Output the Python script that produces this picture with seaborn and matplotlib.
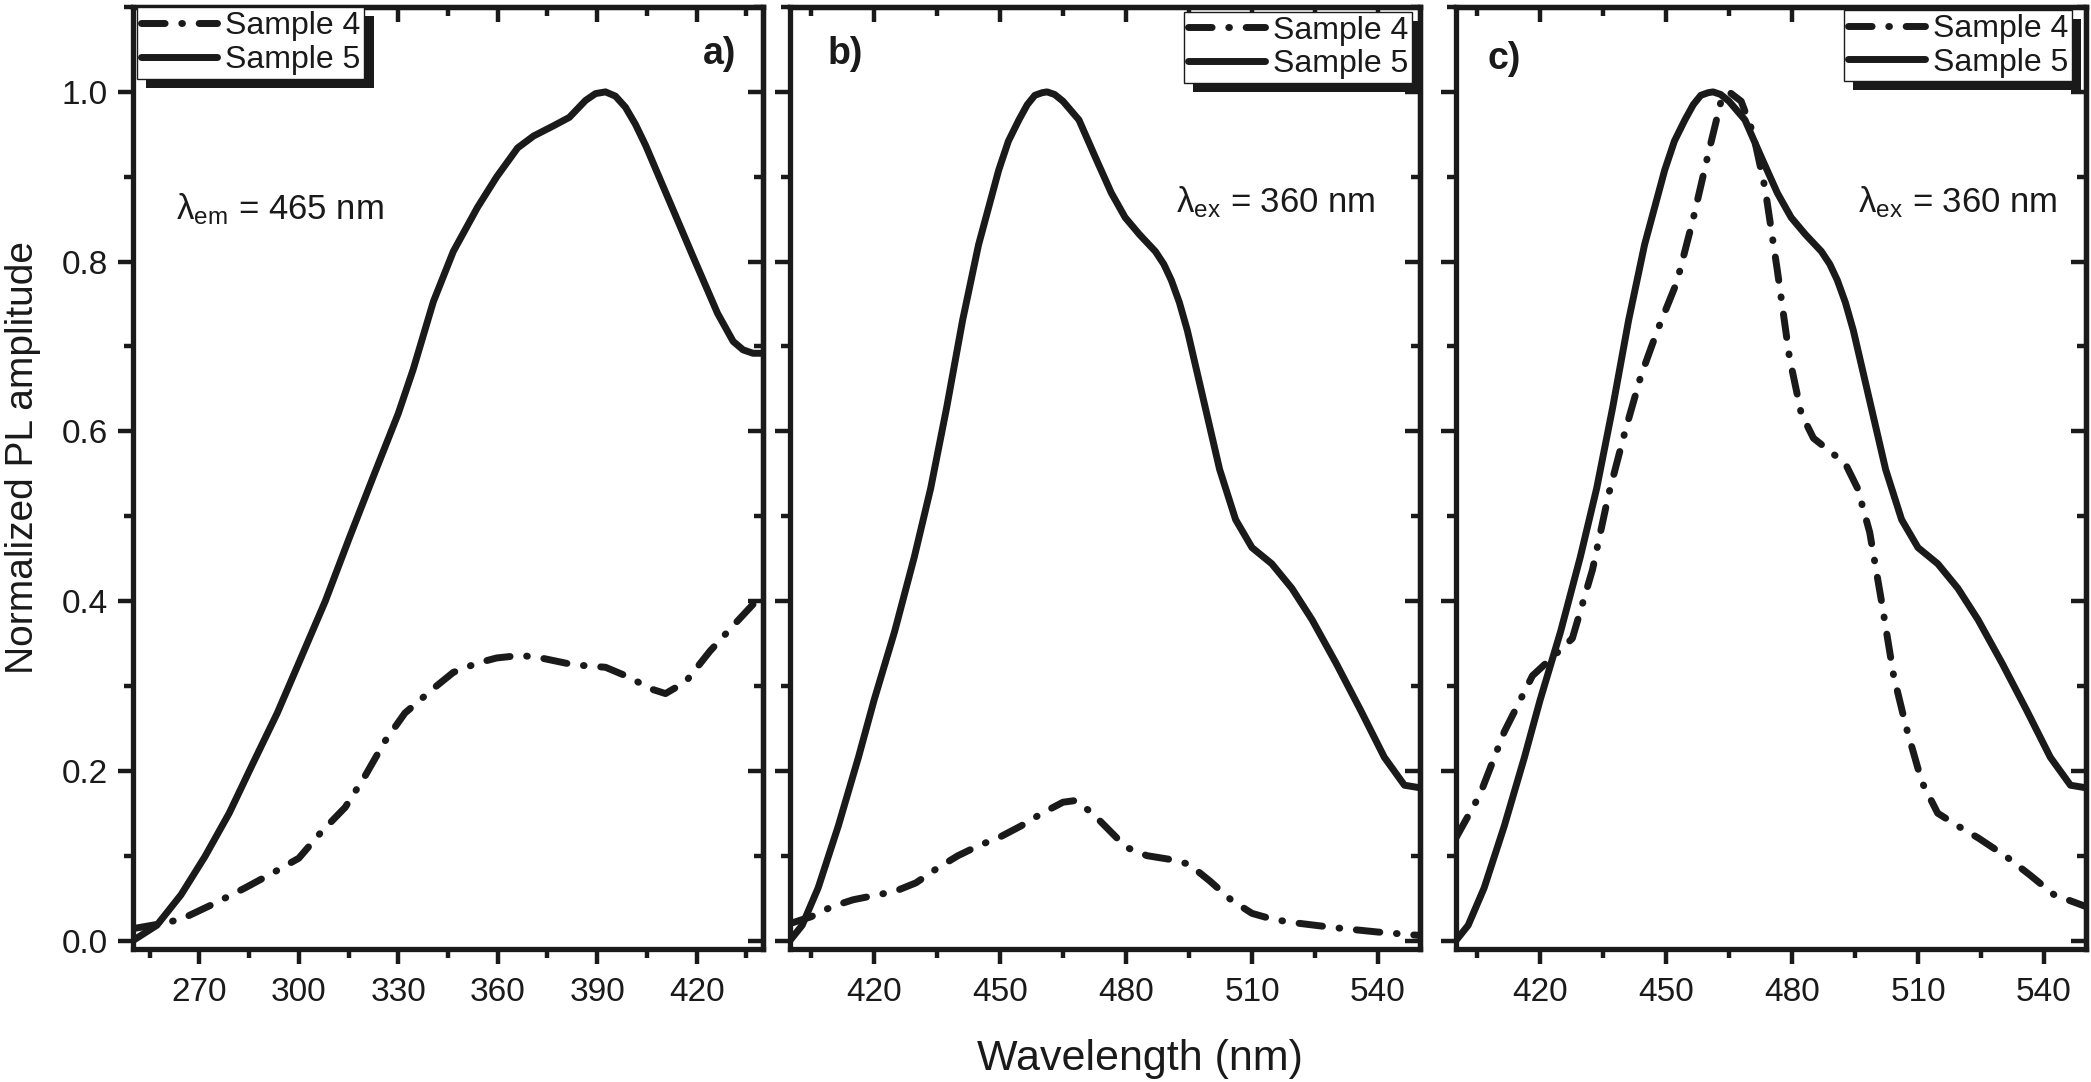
import seaborn as sns
import pandas as pd
import matplotlib.pyplot as plt
from matplotlib.ticker import MultipleLocator
import matplotlib.patheffects as pe

# panel a: excitation spectra (lambda_em = 465 nm)
exc_wl_s5 = [250, 257.2, 264.5, 271.7, 279, 286.2, 293.5, 300, 308, 315.2, 322.5, 330, 334.5,
             340.6, 346.6, 353.9, 359.7, 366, 370.8, 376.8, 381.6, 386.5, 389.5, 392.5, 395.5,
             398.5, 401.5, 404.6, 411.8, 419, 426.3, 431, 434, 437, 440]
exc_s5 = [0.0, 0.018, 0.054, 0.099, 0.15, 0.209, 0.268, 0.327, 0.40, 0.474, 0.547, 0.621, 0.673,
          0.753, 0.812, 0.864, 0.90, 0.934, 0.948, 0.96, 0.97, 0.99, 0.998, 1.0, 0.995,
          0.982, 0.962, 0.937, 0.871, 0.805, 0.739, 0.706, 0.696, 0.692, 0.692]
exc_wl_s4 = [250, 257.2, 264.5, 274.2, 283.8, 292.3, 300, 306.8, 314, 320, 326, 332, 340.6,
             346.6, 353.9, 359.7, 367, 373, 382.8, 392.5, 399.8, 405.8, 410.6, 416.7, 424,
             431, 437.2, 440]
exc_s4 = [0.014, 0.019, 0.025, 0.043, 0.062, 0.08, 0.097, 0.128, 0.157, 0.194, 0.235, 0.268, 0.297,
          0.316, 0.327, 0.333, 0.336, 0.333, 0.325, 0.322, 0.31, 0.297, 0.291, 0.305, 0.341,
          0.371, 0.397, 0.40]

# panels b and c: emission spectra (lambda_ex = 360 nm)
em_wl_s5 = [400, 402.9, 406.7, 411.5, 416.3, 420, 424.9, 429.6, 433.5, 437.3, 441.1, 444.9, 449.7,
            452, 454.5, 456.5, 458.3, 460, 461.2, 463, 465, 468.8, 472.7, 476.5, 479.8, 483.2,
            487, 489, 490.8, 492.7, 494.6, 498.5, 502.3, 506.1, 510, 514.7, 519.5, 524.3, 530,
            535.8, 541.5, 546.3, 550]
em_s5 = [0.0, 0.018, 0.062, 0.135, 0.216, 0.283, 0.364, 0.452, 0.533, 0.628, 0.731, 0.82, 0.908,
         0.942, 0.967, 0.985, 0.996, 0.999, 1.0, 0.997, 0.989, 0.967, 0.923, 0.881, 0.852, 0.832,
         0.812, 0.797, 0.778, 0.752, 0.719, 0.636, 0.555, 0.496, 0.463, 0.444, 0.415, 0.378, 0.327,
         0.272, 0.216, 0.183, 0.18]

# panel b, sample 4 (raw normalisation)
em_wl_s4_b = [400, 405, 410, 415, 420, 425, 430, 435, 440, 445, 450, 455, 460, 465, 468, 472,
              476, 480, 485, 490, 495, 500, 505, 510, 515, 520, 530, 540, 550]
em_s4_b = [0.020, 0.028, 0.040, 0.048, 0.053, 0.058, 0.068, 0.085, 0.100, 0.112, 0.122, 0.135,
           0.150, 0.163, 0.165, 0.150, 0.130, 0.110, 0.100, 0.096, 0.090, 0.070, 0.048, 0.032,
           0.025, 0.021, 0.015, 0.010, 0.006]

# panel c, sample 4 (self-normalised)
em_wl_s4_c = [400, 405.7, 411.5, 418.2, 423, 427.7, 432.5, 436.3, 440.2, 444, 447.8, 452.6, 456.4,
              460.2, 463.1, 465, 467.9, 470.7, 473.6, 476.5, 479.4, 482.2, 485.1, 488.9, 492.7,
              495.6, 498.5, 501.3, 504.2, 507.1, 510.9, 514.7, 519.5, 524.3, 531, 536.7, 542.4, 550]
em_s4_c = [0.121, 0.172, 0.246, 0.312, 0.334, 0.356, 0.437, 0.525, 0.599, 0.665, 0.717, 0.776, 0.849,
           0.93, 0.989, 1.0, 0.989, 0.952, 0.886, 0.79, 0.687, 0.621, 0.592, 0.577, 0.562,
           0.533, 0.481, 0.40, 0.312, 0.253, 0.187, 0.15, 0.135, 0.121, 0.099, 0.077, 0.054, 0.04]

sns.set_theme(style='white')
plt.rcParams['font.family'] = ['Liberation Sans', 'DejaVu Sans']
plt.rcParams['mathtext.fontset'] = 'custom'
plt.rcParams['mathtext.rm'] = 'Liberation Sans'
plt.rcParams['axes.linewidth'] = 3.8

fig = plt.figure(figsize=(20.91, 10.82), dpi=100)
lefts = [133 / 2091, 790 / 2091, 1456 / 2091]
axes = [fig.add_axes([l, 0.1229, 630 / 2091, 0.8706]) for l in lefts]

LW = 5.0
DASHDOT = (0, (3.4, 2.4, 0.1, 2.4))

panels = [
    (exc_wl_s4, exc_s4, exc_wl_s5, exc_s5, (250, 440)),
    (em_wl_s4_b, em_s4_b, em_wl_s5, em_s5, (400, 550)),
    (em_wl_s4_c, em_s4_c, em_wl_s5, em_s5, (400, 550)),
]

for ax, (x4, y4, x5, y5, xlim) in zip(axes, panels):
    d4 = pd.DataFrame({'wl': x4, 'amp': y4})
    d5 = pd.DataFrame({'wl': x5, 'amp': y5})
    sns.lineplot(data=d4, x='wl', y='amp', ax=ax, color='k', lw=LW, linestyle=DASHDOT,
                 dash_capstyle='round', dash_joinstyle='round', label='Sample 4')
    sns.lineplot(data=d5, x='wl', y='amp', ax=ax, color='k', lw=LW,
                 solid_capstyle='round', solid_joinstyle='round', label='Sample 5')
    ax.set_xlim(*xlim)
    ax.set_ylim(-0.01, 1.1)
    ax.set_xlabel('')
    ax.set_ylabel('')
    for s in ax.spines.values():
        s.set_linewidth(3.8)
        s.set_color('k')
    ax.xaxis.set_major_locator(MultipleLocator(30))
    ax.xaxis.set_minor_locator(MultipleLocator(15))
    ax.yaxis.set_major_locator(MultipleLocator(0.2))
    ax.yaxis.set_minor_locator(MultipleLocator(0.1))
    ax.tick_params(which='both', direction='out', bottom=True, left=True, top=False, right=False,
                   width=3.2, color='k', labelsize=24, labelcolor='k')
    ax.tick_params(axis='x', pad=9)
    ax.tick_params(axis='y', pad=7)
    ax.tick_params(which='major', length=11)
    ax.tick_params(which='minor', length=6.5)
    # inward ticks on the top and right edges
    top = ax.secondary_xaxis('top')
    top.xaxis.set_major_locator(MultipleLocator(30))
    top.xaxis.set_minor_locator(MultipleLocator(15))
    right = ax.secondary_yaxis('right')
    right.yaxis.set_major_locator(MultipleLocator(0.2))
    right.yaxis.set_minor_locator(MultipleLocator(0.1))
    for sec in (top, right):
        sec.tick_params(which='both', direction='in', width=3.2, color='k',
                        labeltop=False, labelright=False)
        sec.tick_params(which='major', length=11)
        sec.tick_params(which='minor', length=6.5)
        for s in sec.spines.values():
            s.set_linewidth(3.8)
    ax.yaxis.set_major_formatter(lambda v, p: f'{v:.1f}')

axes[1].tick_params(labelleft=False)
axes[2].tick_params(labelleft=False)

legend_pos = [('upper left', (0.006, 1.0)), ('upper right', (0.987, 0.995)),
              ('upper right', (0.978, 0.997))]
for ax, (loc, anchor) in zip(axes, legend_pos):
    leg = ax.legend(loc=loc, bbox_to_anchor=anchor, borderaxespad=0, fontsize=23,
                    frameon=True, fancybox=False, borderpad=0.12, labelspacing=0.12,
                    handlelength=2.4, handletextpad=0.25)
    fr = leg.get_frame()
    fr.set_edgecolor('k')
    fr.set_linewidth(1.0)
    fr.set_alpha(1)
    fr.set_path_effects([pe.SimplePatchShadow(offset=(6.5, -6.5), shadow_rgbFace='k', alpha=1),
                         pe.Normal()])
    for t in leg.get_texts():
        t.set_color('k')

axes[0].text(263, 0.85, r'$\mathregular{\lambda_{em}}$ = 465 nm', fontsize=25, color='k')
axes[1].text(492, 0.858, r'$\mathregular{\lambda_{ex}}$ = 360 nm', fontsize=25, color='k')
axes[2].text(495.6, 0.858, r'$\mathregular{\lambda_{ex}}$ = 360 nm', fontsize=25, color='k')

axes[0].text(422, 1.033, 'a)', fontsize=27, fontweight='bold', color='k')
axes[1].text(408.9, 1.033, 'b)', fontsize=27, fontweight='bold', color='k')
axes[2].text(407.6, 1.027, 'c)', fontsize=27, fontweight='bold', color='k')

fig.text(0.011, 0.577, 'Normalized PL amplitude', rotation=90, ha='center', va='center',
         fontsize=28, color='k')
fig.text(0.545, 0.011, 'Wavelength (nm)', ha='center', va='baseline', fontsize=31, color='k')

fig.savefig('out.png', dpi=100)
